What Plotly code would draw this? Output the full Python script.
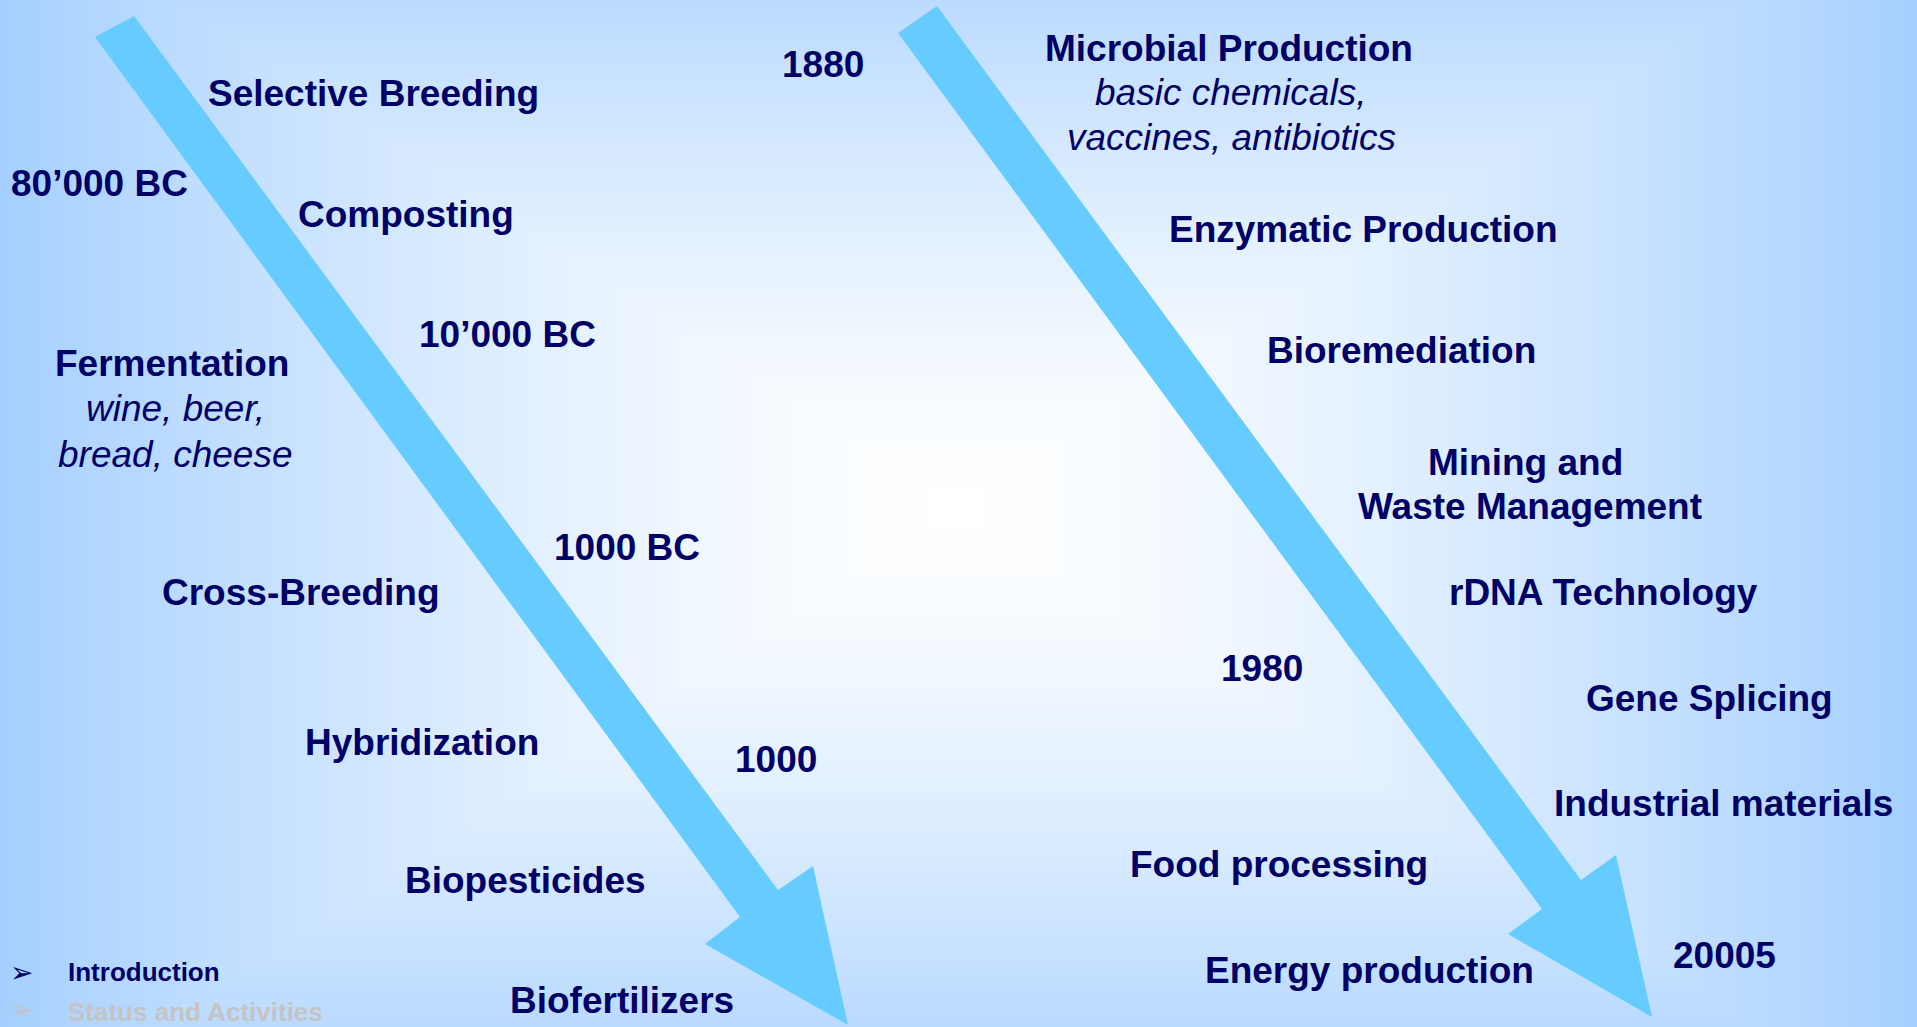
import plotly.graph_objects as go

# ---------------- data ----------------
left_labels = ["Selective Breeding", "Composting", "Fermentation", "Cross-Breeding",
               "Hybridization", "Biopesticides", "Biofertilizers"]
left_dates = ["80’000 BC", "10’000 BC", "1000 BC", "1000"]
fermentation_notes = ["wine, beer,", "bread, cheese"]

right_labels = ["Microbial Production", "Enzymatic Production", "Bioremediation",
                "Mining and", "Waste Management", "rDNA Technology", "Gene Splicing",
                "Industrial materials", "Food processing", "Energy production"]
right_dates = ["1880", "1980", "20005"]
microbial_notes = ["basic chemicals,", "vaccines, antibiotics"]

nav_items = ["Introduction", "Status and Activities"]

# ---------------- layout positions (pixel space of the slide) ----------------
W, H = 1917, 1027
left_label_pos = [(373, 93), (406, 214), (172, 363), (301, 592), (422, 742), (525, 880), (622, 1000)]
left_date_pos = [(99, 183), (507, 334), (627, 547), (776, 759)]
fermentation_note_pos = [(175, 408), (175, 454)]

right_label_pos = [(1229, 48), (1363, 229), (1401, 350), (1525, 462), (1530, 506),
                   (1603, 592), (1709, 698), (1723, 803), (1279, 864), (1369, 970)]
right_date_pos = [(823, 64), (1262, 668), (1724, 955)]
microbial_note_pos = [(1230, 92), (1231, 137)]

nav_pos = [(67, 972), (67, 1012)]
bullet_pos = [(21, 972), (21, 1009)]

left_arrow_x = [95, 134, 778, 813, 848, 705, 740, 95]
left_arrow_y = [37, 16, 890, 866, 1025, 944, 917, 37]
right_arrow_x = [898, 937, 1581, 1616, 1652, 1508, 1542, 898]
right_arrow_y = [33, 6, 880, 855, 1017, 934, 909, 33]

NAVY = "#000066"
ARROW = "#66CCFF"
FONT = "Liberation Sans, Arial, sans-serif"
FS = 37

fig = go.Figure()

# ---------------- background gradient (rectangular, from centre) ----------------
edge = (166, 208, 255)
cx, cy = 958, 510
wx, wy = 958, 620
gamma = 1.4
N = 100
shapes = []
for i in range(N):
    t = 1 - i / N
    k = t ** gamma
    r = round(255 + (edge[0] - 255) * k)
    g = round(255 + (edge[1] - 255) * k)
    b = round(255 + (edge[2] - 255) * k)
    pad = 4 if i == 0 else 0
    shapes.append(dict(type="rect", xref="x", yref="y", layer="below",
                       x0=cx - t * wx - pad, x1=cx + t * wx + pad,
                       y0=cy - t * wy, y1=cy + t * wy,
                       fillcolor=f"rgb({r},{g},{b})", line=dict(width=0)))

# ---------------- arrows ----------------
for ax, ay in [(left_arrow_x, left_arrow_y), (right_arrow_x, right_arrow_y)]:
    fig.add_trace(go.Scatter(x=ax, y=ay, mode="lines", fill="toself",
                             fillcolor=ARROW, line=dict(width=0, color=ARROW),
                             hoverinfo="skip", showlegend=False))

# ---------------- text ----------------
ann = []

def add(text, pos, bold=True, italic=False, size=FS, color=NAVY, xanchor="center"):
    s = text
    if bold:
        s = f"<b>{s}</b>"
    if italic:
        s = f"<i>{s}</i>"
    ann.append(dict(x=pos[0], y=pos[1], xref="x", yref="y", text=s, showarrow=False,
                    xanchor=xanchor, yanchor="middle", borderpad=0,
                    font=dict(family=FONT, size=size, color=color)))

for t, p in zip(left_labels, left_label_pos):
    add(t, p)
for t, p in zip(left_dates, left_date_pos):
    add(t, p)
for t, p in zip(fermentation_notes, fermentation_note_pos):
    add(t, p, bold=False, italic=True)
for t, p in zip(right_labels, right_label_pos):
    add(t, p)
for t, p in zip(right_dates, right_date_pos):
    add(t, p)
for t, p in zip(microbial_notes, microbial_note_pos):
    add(t, p, bold=False, italic=True)

nav_colors = [NAVY, "#C4C4C4"]
for t, p, bp, c in zip(nav_items, nav_pos, bullet_pos, nav_colors):
    add(t, p, size=26, color=c, xanchor="left")
    ann.append(dict(x=bp[0], y=bp[1], xref="x", yref="y", text="➢", showarrow=False,
                    xanchor="center", yanchor="middle", borderpad=0,
                    font=dict(family="DejaVu Sans", size=28, color=c)))

fig.update_layout(
    width=W, height=H,
    margin=dict(l=0, r=0, t=0, b=0),
    paper_bgcolor=f"rgb{edge}",
    plot_bgcolor="rgba(0,0,0,0)",
    xaxis=dict(range=[0, W], visible=False, fixedrange=True),
    yaxis=dict(range=[H, 0], visible=False, fixedrange=True),
    shapes=shapes,
    annotations=ann,
    showlegend=False,
)

fig.write_html("out.html", config={"displayModeBar": False},
               post_script="document.body.style.margin='0';document.body.style.overflow='hidden';")
